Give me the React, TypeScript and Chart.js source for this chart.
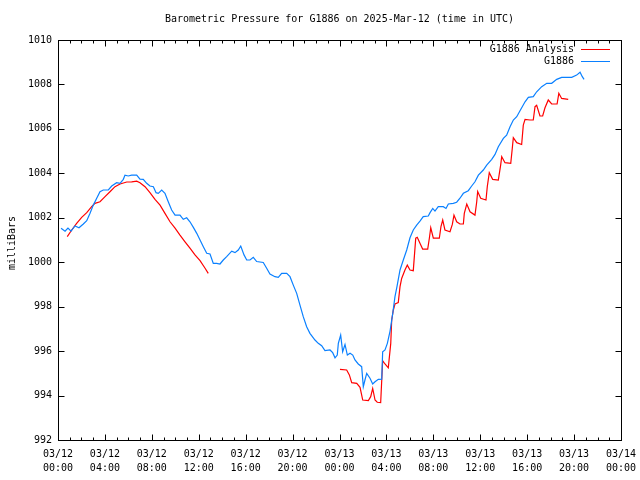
import React, { useEffect, useRef } from "react";
import { Chart, registerables } from "chart.js";

Chart.register(...registerables);

const TITLE = "Barometric Pressure for G1886 on 2025-Mar-12 (time in UTC)";
const Y_LABEL = "milliBars";
const SERIES_NAMES = ["G1886 Analysis", "G1886"];
const SERIES_COLORS = ["#ff0000", "#0a80ff"];

const xDayLabels = ["03/12", "03/12", "03/12", "03/12", "03/12", "03/12", "03/13", "03/13", "03/13", "03/13", "03/13", "03/13", "03/14"];
const xTimeLabels = ["00:00", "04:00", "08:00", "12:00", "16:00", "20:00", "00:00", "04:00", "08:00", "12:00", "16:00", "20:00", "00:00"];
const yTicks = [992, 994, 996, 998, 1000, 1002, 1004, 1006, 1008, 1010];

// Hours since 03/12 00:00 UTC
const observedHours = [
  0.26, 0.6, 0.85, 1.11, 1.45, 1.79, 2.16, 2.45, 2.73, 3.01, 3.3, 3.58, 3.86, 4.29, 4.58, 5.0, 5.29, 5.57, 5.71, 5.99,
  6.28, 6.71, 6.99, 7.27, 7.56, 7.84, 8.13, 8.36, 8.55, 8.84, 9.12, 9.4, 9.69, 9.98, 10.4, 10.68, 10.97, 11.25, 11.54, 11.83,
  12.11, 12.39, 12.68, 12.96, 13.24, 13.53, 13.81, 14.09, 14.38, 14.81, 15.09, 15.37, 15.58, 15.86, 16.09, 16.37, 16.65, 16.94, 17.5, 17.79,
  18.07, 18.5, 18.78, 19.07, 19.5, 19.78, 20.06, 20.35, 20.63, 20.91, 21.2, 21.48, 21.91, 22.19, 22.48, 22.76, 23.19, 23.42, 23.62, 23.81,
  23.9, 24.1, 24.27, 24.47, 24.67, 24.9, 25.13, 25.32, 25.6, 25.89, 26.03, 26.17, 26.32, 26.6, 26.83, 27.03, 27.31, 27.6, 27.68, 27.88,
  28.08, 28.31, 28.54, 28.73, 28.9, 29.16, 29.44, 29.73, 30.01, 30.29, 30.58, 30.86, 31.14, 31.57, 31.72, 31.95, 32.14, 32.42, 32.85, 33.08,
  33.28, 33.7, 33.99, 34.27, 34.56, 34.98, 35.27, 35.55, 35.84, 36.26, 36.55, 36.98, 37.26, 37.54, 37.97, 38.25, 38.54, 38.82, 39.11, 39.39,
  39.82, 40.1, 40.52, 40.81, 41.24, 41.67, 42.09, 42.52, 42.94, 43.8, 44.22, 44.51, 44.7, 44.85,
];
const observedValues = [
  1001.53, 1001.4, 1001.54, 1001.4, 1001.63, 1001.55, 1001.72, 1001.87, 1002.2, 1002.57, 1002.88, 1003.17, 1003.25, 1003.25, 1003.43, 1003.58, 1003.55, 1003.73, 1003.92, 1003.88,
  1003.92, 1003.92, 1003.74, 1003.73, 1003.55, 1003.43, 1003.4, 1003.13, 1003.1, 1003.25, 1003.1, 1002.72, 1002.35, 1002.12, 1002.12, 1001.93, 1002.0, 1001.82, 1001.57, 1001.3,
  1001.0, 1000.7, 1000.4, 1000.37, 999.95, 999.95, 999.92, 1000.1, 1000.25, 1000.5, 1000.43, 1000.55, 1000.73, 1000.33, 1000.1, 1000.1, 1000.22, 1000.03, 999.99, 999.73,
  999.47, 999.35, 999.32, 999.5, 999.5, 999.35, 998.97, 998.6, 998.07, 997.55, 997.1, 996.8, 996.5, 996.35, 996.24, 996.02, 996.05, 995.93, 995.7, 995.82,
  996.35, 996.72, 995.97, 996.3, 995.82, 995.9, 995.82, 995.6, 995.42, 995.3, 994.4, 994.7, 995.0, 994.78, 994.52, 994.62, 994.73, 994.74, 995.97, 996.05,
  996.35, 996.9, 997.7, 998.45, 998.9, 999.65, 1000.1, 1000.55, 1001.1, 1001.45, 1001.67, 1001.85, 1002.05, 1002.08, 1002.23, 1002.42, 1002.3, 1002.5, 1002.5, 1002.42,
  1002.62, 1002.65, 1002.7, 1002.88, 1003.1, 1003.22, 1003.43, 1003.62, 1003.92, 1004.15, 1004.37, 1004.63, 1004.85, 1005.2, 1005.57, 1005.72, 1006.1, 1006.4, 1006.55, 1006.82,
  1007.22, 1007.42, 1007.45, 1007.67, 1007.9, 1008.05, 1008.05, 1008.23, 1008.32, 1008.32, 1008.42, 1008.55, 1008.35, 1008.23,
];

const analysisHours = [
  0.79, 1.17, 1.59, 2.02, 2.45, 2.87, 3.15, 3.58, 4.01, 4.43, 4.86, 5.29, 5.86, 6.28, 6.71, 6.99, 7.42, 7.84, 8.27, 8.7,
  9.12, 9.55, 9.98, 10.4, 10.83, 11.25, 11.68, 12.11, 12.54, 12.81, 18.0,
  24.04, 24.61, 24.84, 25.04, 25.47, 25.75, 25.98, 26.46, 26.66, 26.83, 27.03, 27.22, 27.51, 27.68, 27.88, 28.16, 28.37, 28.45, 28.59,
  28.73, 29.01, 29.16, 29.3, 29.58, 29.78, 30.01, 30.29, 30.5, 30.63, 30.86, 31.09, 31.52, 31.66, 31.78, 32.0, 32.51, 32.65, 32.8, 32.99,
  33.42, 33.62, 33.76, 33.99, 34.27, 34.56, 34.64, 34.85, 35.13, 35.55, 35.7, 35.78, 36.04, 36.49, 36.6, 36.77, 37.06, 37.54, 37.74, 37.83,
  38.11, 38.6, 38.73, 38.82, 39.11, 39.53, 39.67, 39.82, 40.24, 40.52, 40.67, 40.81, 41.09, 41.32, 41.52, 41.8, 42.09, 42.55, 42.7, 42.94,
  43.5,
];
const analysisValues: (number | null)[] = [
  1001.15, 1001.45, 1001.75, 1002.02, 1002.23, 1002.5, 1002.65, 1002.72, 1002.95, 1003.17, 1003.4, 1003.52, 1003.61, 1003.62, 1003.65, 1003.58, 1003.4, 1003.13, 1002.83, 1002.57,
  1002.2, 1001.82, 1001.53, 1001.22, 1000.92, 1000.63, 1000.33, 1000.07, 999.73, 999.5, null,
  995.18, 995.15, 994.93, 994.58, 994.55, 994.37, 993.8, 993.77, 993.95, 994.32, 993.8, 993.7, 993.68, 995.57, 995.42, 995.25, 996.35, 997.4, 997.85,
  998.12, 998.18, 998.9, 999.27, 999.65, 999.87, 999.65, 999.62, 1001.08, 1001.12, 1000.85, 1000.59, 1000.59, 1001.08, 1001.55, 1001.08, 1001.08, 1001.6, 1001.9, 1001.45,
  1001.37, 1001.7, 1002.12, 1001.82, 1001.72, 1001.72, 1002.2, 1002.62, 1002.27, 1002.12, 1002.72, 1003.18, 1002.88, 1002.8, 1003.4, 1004.03, 1003.73, 1003.7, 1004.37, 1004.75,
  1004.48, 1004.45, 1005.12, 1005.6, 1005.38, 1005.3, 1006.17, 1006.43, 1006.4, 1006.4, 1007.0, 1007.06, 1006.58, 1006.58, 1006.95, 1007.3, 1007.12, 1007.12, 1007.6, 1007.37,
  1007.33,
];

const FONT = "'DejaVu Sans Mono', 'Liberation Mono', monospace";

const gnuplotDecor = {
  id: "gnuplotDecor",
  afterDraw(chart: any) {
    const ctx = chart.ctx;
    const a = chart.chartArea;
    const xs = chart.scales.x;
    const ys = chart.scales.y;
    const L = Math.round(a.left) + 0.5;
    const R = Math.round(a.right) + 0.5;
    const T = Math.round(a.top) + 0.5;
    const B = Math.round(a.bottom) + 0.5;
    ctx.save();
    ctx.strokeStyle = "#000";
    ctx.lineWidth = 1;
    ctx.beginPath();
    // x ticks, minor every hour, major every 4
    for (let h = 0; h <= 48; h++) {
      const px = Math.round(xs.getPixelForValue(h)) + 0.5;
      const len = h % 4 === 0 ? 6 : 3;
      ctx.moveTo(px, B);
      ctx.lineTo(px, B - len);
      ctx.moveTo(px, T);
      ctx.lineTo(px, T + len);
    }
    yTicks.forEach((v) => {
      const py = Math.round(ys.getPixelForValue(v)) + 0.5;
      ctx.moveTo(L, py);
      ctx.lineTo(L + 6, py);
      ctx.moveTo(R, py);
      ctx.lineTo(R - 6, py);
    });
    ctx.stroke();
    ctx.strokeRect(L, T, R - L, B - T);

    ctx.fillStyle = "#000";
    ctx.font = `10px ${FONT}`;
    ctx.textBaseline = "middle";
    ctx.textAlign = "center";
    ctx.fillText(TITLE, (a.left + a.right) / 2, 19);

    // y label
    ctx.save();
    ctx.translate(12, 243);
    ctx.rotate(-Math.PI / 2);
    ctx.fillText(Y_LABEL, 0, 0);
    ctx.restore();

    // legend
    ctx.textAlign = "right";
    SERIES_NAMES.forEach((name, i) => {
      const y = 49 + i * 12;
      ctx.fillStyle = "#000";
      ctx.fillText(name, 574, y);
      ctx.fillStyle = SERIES_COLORS[i];
      ctx.fillRect(581, y, 29, 1);
    });
    ctx.restore();
  },
};

export default function App() {
  const ref = useRef<HTMLCanvasElement>(null);
  useEffect(() => {
    if (!ref.current) return;
    const analysisData = analysisHours.map((h, i) => ({ x: h, y: analysisValues[i] }));
    const observedData = observedHours.map((h, i) => ({ x: h, y: observedValues[i] }));
    const chart = new Chart(ref.current, {
      type: "line",
      data: {
        datasets: [
          {
            label: SERIES_NAMES[0],
            data: analysisData,
            borderColor: SERIES_COLORS[0],
            borderWidth: 1.2,
            pointRadius: 0,
            tension: 0,
            spanGaps: false,
            order: 1,
          },
          {
            label: SERIES_NAMES[1],
            data: observedData,
            borderColor: SERIES_COLORS[1],
            borderWidth: 1.2,
            pointRadius: 0,
            tension: 0,
            order: 0,
          },
        ],
      },
      options: {
        animation: false,
        responsive: false,
        devicePixelRatio: 1,
        layout: { padding: { top: 40, right: 19, left: 0, bottom: 0 } },
        plugins: { legend: { display: false }, tooltip: { enabled: false }, title: { display: false } },
        scales: {
          x: {
            type: "linear",
            min: 0,
            max: 48,
            grid: { display: false, drawTicks: false },
            border: { display: false },
            afterFit: (s: any) => {
              s.height = 40;
              s.paddingLeft = 0;
              s.paddingRight = 0;
            },
            afterBuildTicks: (s: any) => {
              s.ticks = xDayLabels.map((_, i) => ({ value: i * 4 }));
            },
            ticks: {
              autoSkip: false,
              maxRotation: 0,
              padding: 7,
              color: "#000",
              font: { family: FONT, size: 10, lineHeight: 1.4 },
              callback: (v: any) => {
                const i = Math.round(Number(v) / 4);
                return [xDayLabels[i], xTimeLabels[i]];
              },
            },
          },
          y: {
            type: "linear",
            min: 992,
            max: 1010,
            grid: { display: false, drawTicks: false },
            border: { display: false },
            afterFit: (s: any) => {
              s.width = 58;
              s.paddingTop = 0;
              s.paddingBottom = 0;
            },
            afterBuildTicks: (s: any) => {
              s.ticks = yTicks.map((v) => ({ value: v }));
            },
            ticks: {
              padding: 6,
              color: "#000",
              font: { family: FONT, size: 10 },
              callback: (v: any) => String(v),
            },
          },
        },
      },
      plugins: [gnuplotDecor],
    });
    return () => chart.destroy();
  }, []);
  return (
    <div style={{ position: "absolute", left: 0, top: 0, width: 640, height: 480, background: "#fff" }}>
      <canvas ref={ref} width={640} height={480} style={{ display: "block" }} />
    </div>
  );
}
